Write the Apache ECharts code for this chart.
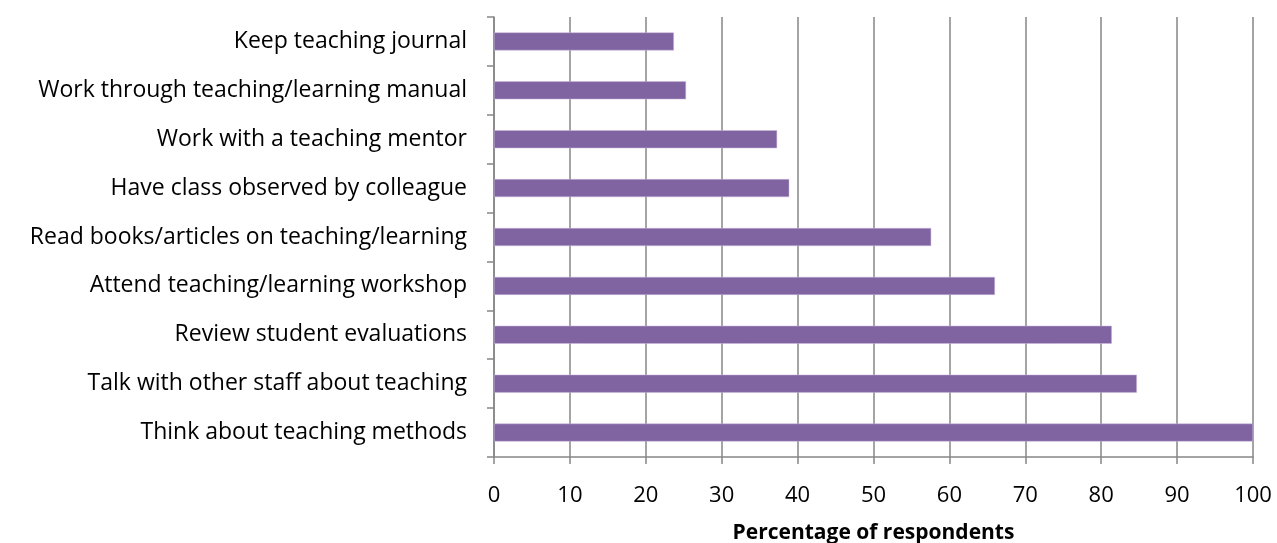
<!DOCTYPE html>
<html>
<head>
    <meta charset="UTF-8">
    <title>Teaching development activities</title>
    <script src="https://cdn.jsdelivr.net/npm/echarts@6/dist/echarts.min.js"></script>
</head>
<body style="margin:0;background:#fff;">
<div id="chart" style="width:1277px;height:543px;"></div>
<script type="text/javascript">
    // bottom to top, as the category axis draws them
    var activities = [
        'Think about teaching methods',
        'Talk with other staff about teaching',
        'Review student evaluations',
        'Attend teaching/learning workshop',
        'Read books/articles on teaching/learning',
        'Have class observed by colleague',
        'Work with a teaching mentor',
        'Work through teaching/learning manual',
        'Keep teaching journal'
    ];
    var percentages = [100, 84.7, 81.4, 66.0, 57.6, 38.9, 37.3, 25.3, 23.7];

    var axisGrey = '#868686';
    var font = '"Open Sans", sans-serif';

    var myChart = echarts.init(document.getElementById('chart'));
    myChart.setOption({
        animation: false,
        grid: {left: 494, right: 24, top: 17, bottom: 86, outerBoundsMode: 'none'},
        xAxis: {
            type: 'value',
            min: 0, max: 100, interval: 10,
            name: 'Percentage of respondents',
            nameLocation: 'middle',
            nameGap: 66,
            nameTextStyle: {fontFamily: font, fontSize: 21, fontWeight: 'bold', color: '#000'},
            axisLine: {show: true, lineStyle: {color: axisGrey, width: 1.5}},
            axisTick: {show: true, length: 7, lineStyle: {color: axisGrey, width: 1.5}},
            axisLabel: {fontFamily: font, fontSize: 22, color: '#000', margin: 28},
            splitLine: {show: true, lineStyle: {color: axisGrey, width: 1.5}}
        },
        yAxis: {
            type: 'category',
            data: activities,
            axisLine: {show: true, lineStyle: {color: axisGrey, width: 1.5}},
            axisTick: {show: true, length: 7, lineStyle: {color: axisGrey, width: 1.5}},
            axisLabel: {fontFamily: font, fontSize: 23, color: '#000', margin: 27}
        },
        series: [{
            type: 'bar',
            data: percentages,
            barWidth: 18,
            itemStyle: {color: '#8064A2', borderColor: '#c9b8dc', borderWidth: 0.5}
        }]
    });
</script>
</body>
</html>
